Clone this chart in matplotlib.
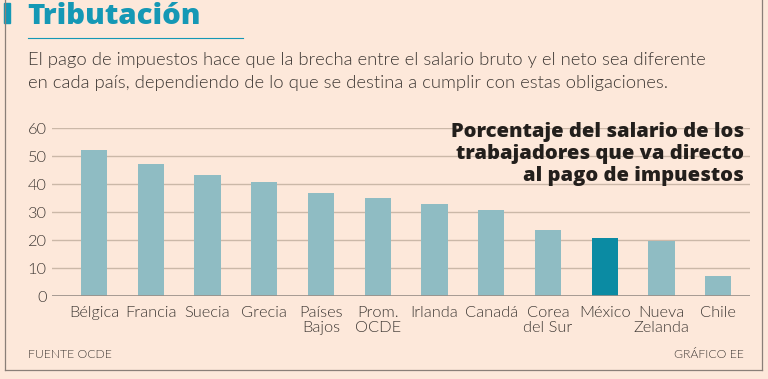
import matplotlib.pyplot as plt
from matplotlib.lines import Line2D
from matplotlib.patches import Rectangle

paises = ["Bélgica", "Francia", "Suecia", "Grecia", "Países\nBajos", "Prom.\nOCDE",
          "Irlanda", "Canadá", "Corea\ndel Sur", "México", "Nueva\nZelanda", "Chile"]
impuestos = [52.1, 47.1, 43.2, 40.7, 36.8, 35.0, 32.9, 30.7, 23.6, 20.7, 19.6, 7.1]
resaltado = "México"

bg = "#fde8da"
azul = "#8fbcc3"
azul_osc = "#0b8ba3"
teal = "#1598b5"
gris = "#3f3935"

plt.rcParams['font.family'] = ['Lato', 'DejaVu Sans']
pesado = ['Open Sans', 'DejaVu Sans']

fig = plt.figure(figsize=(7.68, 3.79), dpi=100, facecolor=bg)
W, H = 768, 379

def fx(px):
    return px / W

def fy(py):
    return 1 - py / H

# marco
fig.add_artist(Line2D([fx(5), fx(5)], [fy(0), fy(370)], color="#8a7f78", lw=0.9))
fig.add_artist(Line2D([fx(5), fx(762)], [fy(370), fy(370)], color="#8a7f78", lw=0.9))
fig.add_artist(Line2D([fx(762), fx(762)], [fy(0), fy(370)], color="#8a7f78", lw=0.9))
fig.add_artist(Rectangle((fx(4), fy(23)), fx(6), 20 / H, color=teal, transform=fig.transFigure))

fig.text(fx(27), fy(16), "Tributación", color=teal, fontsize=21.2, fontweight=800,
         family=pesado, va="center")
fig.add_artist(Line2D([fx(28), fx(243)], [fy(38), fy(38)], color=teal, lw=0.8))
fig.text(fx(28), fy(60), "El pago de impuestos hace que la brecha entre el salario bruto y el neto sea diferente",
         color=gris, fontsize=13.3, fontweight=300, va="center")
fig.text(fx(28), fy(83), "en cada país, dependiendo de lo que se destina a cumplir con estas obligaciones.",
         color=gris, fontsize=13.3, fontweight=300, va="center")

ax = fig.add_axes([fx(52), fy(296), fx(750 - 52), (296 - 128) / H])
ax.set_facecolor("none")
x = range(len(paises))
colores = [azul_osc if p.replace("\n", " ") == resaltado else azul for p in paises]
ax.bar(x, impuestos, width=0.46, color=colores, zorder=3)
ax.set_xlim(-0.74, 11.56)
ax.set_ylim(0, 60)
ax.set_yticks(range(0, 61, 10))
ax.grid(axis="y", color="#cbb8a8", lw=1.0, zorder=0)
for s in ax.spines.values():
    s.set_visible(False)
ax.axhline(0, color="#9a8f88", lw=1.2, zorder=4)
ax.tick_params(length=0, colors=gris, labelsize=11.8)
ax.tick_params(axis="y", pad=4)
ax.tick_params(axis="x", pad=7)
ax.set_xticks(list(x))
ax.set_xticklabels(paises, linespacing=1.1, va="top")
for t in ax.get_xticklabels() + ax.get_yticklabels():
    t.set_fontweight(300)

fig.text(fx(744), fy(154), "Porcentaje del salario de los\ntrabajadores que va directo\nal pago de impuestos",
         ha="right", va="center", fontsize=14.5, fontweight=800, family=pesado,
         color="#231f1c", linespacing=1.12)

fig.text(fx(28), fy(355), "FUENTE OCDE", fontsize=8.8, fontweight=300, color=gris, va="center")
fig.text(fx(744), fy(355), "GRÁFICO EE", fontsize=8.8, fontweight=300, color=gris, va="center", ha="right")

fig.savefig("out.png", dpi=100, facecolor=bg)
